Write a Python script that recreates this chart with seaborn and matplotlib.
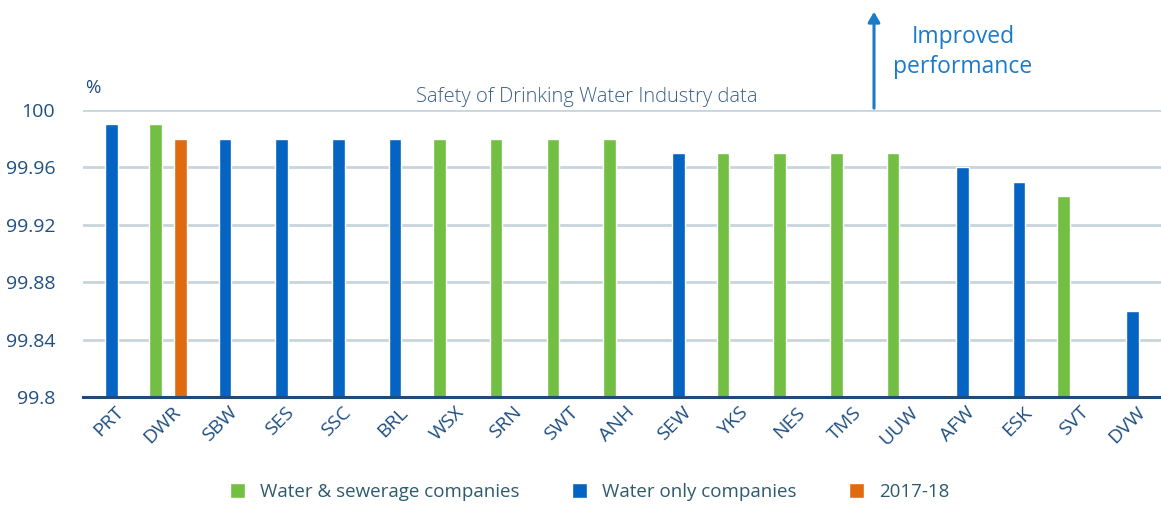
import matplotlib
matplotlib.use("Agg")
import matplotlib.pyplot as plt
import matplotlib.transforms as mtransforms
import seaborn as sns
import pandas as pd

companies = ["PRT", "DWR", "SBW", "SES", "SSC", "BRL", "WSX", "SRN", "SWT", "ANH",
             "SEW", "YKS", "NES", "TMS", "UUW", "AFW", "ESK", "SVT", "DVW"]
company_type = ["W", "WS", "W", "W", "W", "W", "WS", "WS", "WS", "WS",
                "W", "WS", "WS", "WS", "WS", "W", "W", "WS", "W"]
values = [99.99, 99.99, 99.98, 99.98, 99.98, 99.98, 99.98, 99.98, 99.98, 99.98,
          99.97, 99.97, 99.97, 99.97, 99.97, 99.96, 99.95, 99.94, 99.86]
prev_company = ["DWR"]
prev_values = [99.98]

LBL_WS = "Water & sewerage companies"
LBL_W = "Water only companies"
LBL_P = "2017-18"
type_names = {"WS": LBL_WS, "W": LBL_W}

rows = [(c, type_names[t], v) for c, t, v in zip(companies, company_type, values)]
rows += [(c, LBL_P, v) for c, v in zip(prev_company, prev_values)]
df = pd.DataFrame(rows, columns=["company", "group", "value"])

sns.set_theme(style="white")
plt.rcParams["font.family"] = ["Open Sans", "DejaVu Sans"]

TXT = "#1F4F82"
palette = {LBL_WS: "#72BF44", LBL_W: "#0563C1", LBL_P: "#E06A10"}

fig = plt.figure(figsize=(11.61, 5.05), dpi=100)
ax = fig.add_axes([83 / 1161, 1 - 397 / 505, 1 - 83 / 1161, (397 - 110) / 505])

sns.barplot(data=df, x="company", y="value", hue="group", order=companies,
            hue_order=[LBL_WS, LBL_W, LBL_P], palette=palette, dodge=True,
            width=0.66, gap=0, saturation=1, ax=ax, legend=True)

ax.set_ylim(99.8, 100.0)
ax.set_xlim(-0.5, len(companies) - 0.5)
yt = [99.8, 99.84, 99.88, 99.92, 99.96, 100.0]
ax.set_yticks(yt)
ax.set_yticklabels(["99.8", "99.84", "99.88", "99.92", "99.96", "100"])
ax.yaxis.grid(True, color="#C9D5DC", lw=2)
ax.set_axisbelow(True)
for s in ["top", "right", "left"]:
    ax.spines[s].set_visible(False)
ax.spines["bottom"].set_color("#1F4A7A")
ax.spines["bottom"].set_linewidth(2.2)
ax.tick_params(axis="y", length=0, pad=20, labelsize=14, labelcolor=TXT)
ax.tick_params(axis="x", length=0, pad=9, labelsize=14, labelcolor=TXT)
shift = mtransforms.ScaledTranslation(10 / 100, 0, fig.dpi_scale_trans)
for lab in ax.get_xticklabels():
    lab.set_rotation(45)
    lab.set_ha("right")
    lab.set_va("center")
    lab.set_rotation_mode("anchor")
    lab.set_transform(lab.get_transform() + shift)
ax.set_xlabel("")
ax.set_ylabel("")

handles, labels = ax.get_legend_handles_labels()
ax.get_legend().remove()
fig.legend(handles, labels, loc="center", bbox_to_anchor=(0.508, 1 - 492 / 505),
           ncol=3, frameon=False, fontsize=13.5, handlelength=0.8, handleheight=0.8,
           handletextpad=0.8, columnspacing=2.8, labelcolor="#2E5A6E")

fig.text(85 / 1161, 1 - 88 / 505, "%", color=TXT, fontsize=13.5, va="center", ha="left")
fig.text(587 / 1161, 1 - 97 / 505, "Safety of Drinking Water Industry data",
         color="#3A5F87", fontsize=14.5, va="center", ha="center", fontweight="light")
fig.text(963 / 1161, 1 - 52 / 505, "Improved\nperformance", color="#1A7ACC",
         fontsize=16.5, va="center", ha="center", linespacing=1.35)
ax_x = 874 / 1161
fig.patches.append(matplotlib.patches.FancyArrowPatch(
    (ax_x, 1 - 111 / 505), (ax_x, 1 - 9 / 505), transform=fig.transFigure,
    arrowstyle="-|>,head_length=6,head_width=3.5", color="#1A7ACC", lw=2.2))

fig.savefig("out.png", dpi=100)
